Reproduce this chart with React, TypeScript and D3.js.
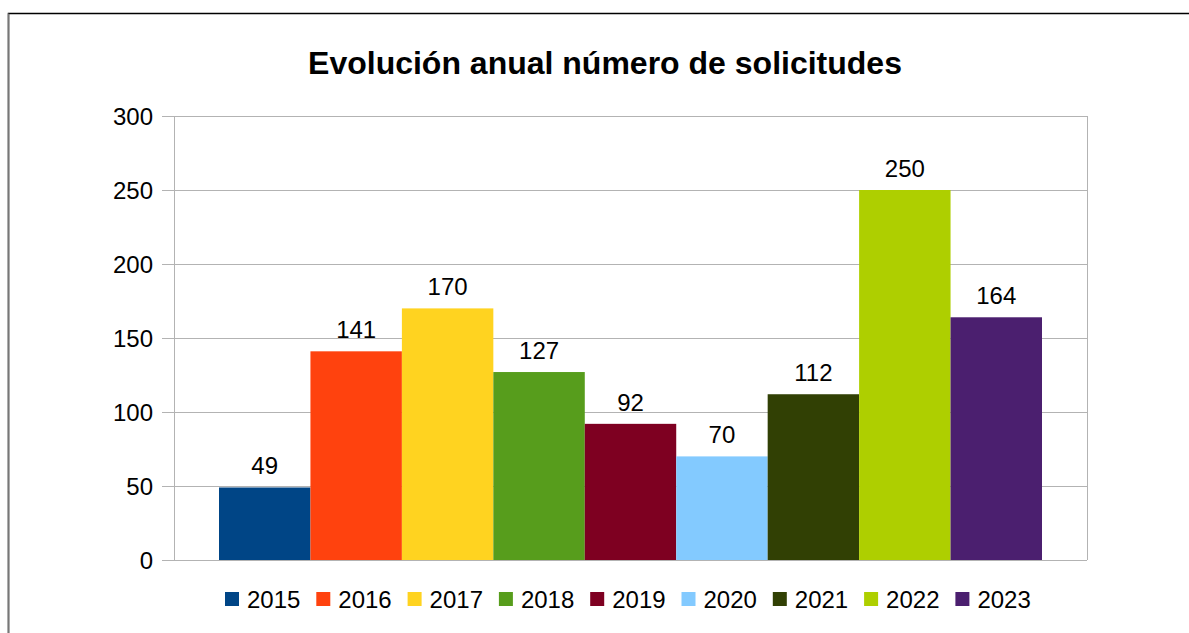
import React from "react";
import * as d3 from "d3";

const years = ["2015", "2016", "2017", "2018", "2019", "2020", "2021", "2022", "2023"];
const values = [49, 141, 170, 127, 92, 70, 112, 250, 164];
const colors = ["#004586", "#ff420e", "#ffd320", "#579d1c", "#7e0021", "#83caff", "#314004", "#aecf00", "#4b1f6f"];
const yTicks = [0, 50, 100, 150, 200, 250, 300];
const title = "Evolución anual número de solicitudes";

export default function App() {
  const W = 1189, H = 633;
  const plotL = 174, plotR = 1087, plotT = 116, plotB = 560;
  const y = d3.scaleLinear().domain([0, 300]).range([plotB, plotT]);
  const x = d3.scaleBand().domain(years).range([219, 1042]).paddingInner(0).paddingOuter(0);
  const font = "'Liberation Sans', Arial, sans-serif";
  const legendStart = 225;
  const legendStep = 91.3;
  return (
    <svg width={W} height={H} style={{ position: "absolute", left: 0, top: 0 }} fontFamily={font}>
      <rect x={0} y={0} width={W} height={H} fill="#fff" />
      <rect x={8.5} y={13.5} width={W + 20} height={H + 20} fill="#fff" stroke="#000" strokeWidth={1.5} />
      <line x1={8.5} y1={13.5} x2={8.5} y2={H} stroke="#777" strokeWidth={1.5} />
      <text x={605} y={74} textAnchor="middle" fontSize={32} fontWeight="bold" fill="#000">{title}</text>
      {yTicks.map((t) => (
        <g key={t}>
          <line x1={162} x2={plotR} y1={Math.round(y(t)) + 0.5} y2={Math.round(y(t)) + 0.5} stroke="#b3b3b3" strokeWidth={1} />
          <text x={153} y={y(t) + 9} textAnchor="end" fontSize={24} fill="#000">{t}</text>
        </g>
      ))}
      <line x1={plotL + 0.5} x2={plotL + 0.5} y1={plotT} y2={plotB} stroke="#b3b3b3" />
      <line x1={plotR + 0.5} x2={plotR + 0.5} y1={plotT} y2={plotB} stroke="#b3b3b3" />
      {years.map((yr, i) => (
        <g key={yr}>
          <rect x={x(yr)!} y={y(values[i])} width={x.bandwidth()} height={plotB - y(values[i])} fill={colors[i]} />
          <text x={x(yr)! + x.bandwidth() / 2} y={y(values[i]) - 13} textAnchor="middle" fontSize={24} fill="#000">{values[i]}</text>
        </g>
      ))}
      {years.map((yr, i) => (
        <g key={"l" + yr} transform={`translate(${legendStart + i * legendStep},0)`}>
          <rect x={0} y={592} width={14} height={14} fill={colors[i]} />
          <text x={22} y={608} fontSize={24} fill="#000">{yr}</text>
        </g>
      ))}
    </svg>
  );
}
